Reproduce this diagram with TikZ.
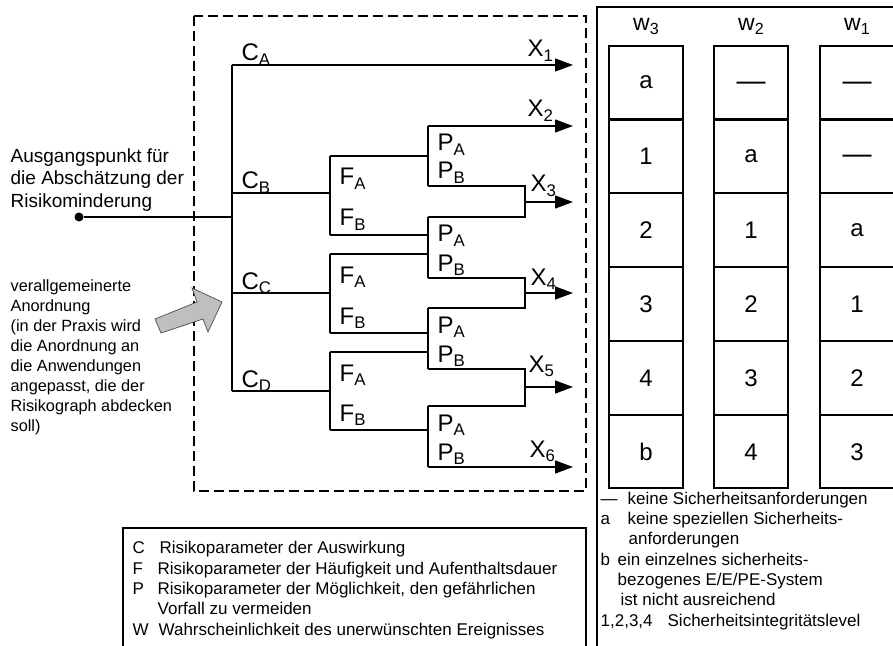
\documentclass[tikz,border=0pt]{standalone}
\usepackage{fontspec}
\setmainfont{Liberation Sans}
\usepackage{graphicx}
\usetikzlibrary{arrows.meta,positioning}

\newcommand{\lsub}[1]{\raisebox{-0.17em}{\scalebox{0.7}{#1}}}

\begin{document}
\begin{tikzpicture}[
  x=1bp, y=-1bp,
  line width=1.3bp,
  branchlabel/.style={
    inner sep=0pt, anchor=base west, font=\fontsize{24bp}{24bp}\selectfont
  },
  outcome/.style={
    -{Triangle[length=18bp, width=13bp]}
  },
  startdot/.style={
    circle, fill, inner sep=0pt, minimum size=9bp
  },
  cell/.style={
    draw, inner sep=0pt, minimum width=74bp, minimum height=72.6bp,
    font=\fontsize{24bp}{24bp}\selectfont
  },
  dashcell/.style={
    cell, font=\fontsize{29bp}{29bp}\selectfont,
    text height=15.5bp, text depth=0pt
  },
  colhead/.style={
    inner sep=0pt, anchor=base, font=\fontsize{23bp}{23bp}\selectfont
  },
  note/.style={
    inner sep=0pt, anchor=base west, font=\fontsize{17bp}{20bp}\selectfont
  },
  sidetext/.style={
    inner sep=0pt, anchor=west, align=left
  }
  ]
  \useasboundingbox (0,0) rectangle (893,646);

  % frames
  \draw[dash pattern=on 10bp off 5bp] (194,16) rectangle (586,491);
  \draw (123,528) rectangle (586,700);
  \draw (597,700) -- (597,7) -- (900,7);

  % left texts
  \node[sidetext, font=\fontsize{19bp}{22.5bp}\selectfont] (origin) at (10,180)
    {Ausgangspunkt für\\die Abschätzung der\\Risikominderung};
  \node[sidetext, font=\fontsize{16.3bp}{20bp}\selectfont] (remark) at (10,357)
    {verallgemeinerte\\Anordnung\\(in der Praxis wird\\die Anordnung an\\die Anwendungen\\angepasst, die der\\Risikograph abdecken\\soll)};

  % junctions of the graph
  \node[startdot] (start) at (79,217) {};
  \coordinate (root) at (232,217);
  \coordinate (cA) at (232,65);
  \coordinate (cB) at (232,193);
  \coordinate (cC) at (232,293);
  \coordinate (cD) at (232,391);
  \coordinate (fB1) at (330,156);
  \coordinate (fB2) at (330,235);
  \coordinate (fC1) at (330,254);
  \coordinate (fC2) at (330,333);
  \coordinate (fD1) at (330,352);
  \coordinate (fD2) at (330,430);
  \coordinate (p1a) at (428,126);
  \coordinate (p1b) at (428,186);
  \coordinate (p2a) at (428,217);
  \coordinate (p2b) at (428,278);
  \coordinate (p3a) at (428,308);
  \coordinate (p3b) at (428,369);
  \coordinate (p4a) at (428,406);
  \coordinate (p4b) at (428,467);
  \coordinate (m3) at (525,202);
  \coordinate (m4) at (525,293);
  \coordinate (m5) at (525,387);
  \coordinate (x1) at (573,65);
  \coordinate (x2) at (573,126);
  \coordinate (x3) at (573,202);
  \coordinate (x4) at (573,293);
  \coordinate (x5) at (573,387);
  \coordinate (x6) at (573,467);

  \draw (start) -- (root);
  \draw (cA) -- (cD);
  \draw[outcome] (cA) -- (x1);
  \draw (cB) -- (cB -| fB1);
  \draw (cC) -- (cC -| fC1);
  \draw (cD) -- (cD -| fD1);
  \draw (fB1) -- (fB2);
  \draw (fC1) -- (fC2);
  \draw (fD1) -- (fD2);
  \draw (fB1) -- (fB1 -| p1a);
  \draw (fB2) -- (fB2 -| p2a);
  \draw (fC1) -- (fC1 -| p2a);
  \draw (fC2) -- (fC2 -| p3a);
  \draw (fD1) -- (fD1 -| p3a);
  \draw (fD2) -- (fD2 -| p4a);
  \draw (p1a) -- (p1b);
  \draw (p2a) -- (p2b);
  \draw (p3a) -- (p3b);
  \draw (p4a) -- (p4b);
  \draw[outcome] (p1a) -- (x2);
  \draw (p1b) -| (p2a -| m3) -- (p2a);
  \draw (p2b) -| (p3a -| m4) -- (p3a);
  \draw (p3b) -| (p4a -| m5) -- (p4a);
  \draw[outcome] (m3) -- (x3);
  \draw[outcome] (m4) -- (x4);
  \draw[outcome] (m5) -- (x5);
  \draw[outcome] (p4b) -- (x6);

  % labels of the graph
  \node[branchlabel] (lCA) at (241,61) {C\lsub{A}};
  \node[branchlabel] (lCB) at (241,189) {C\lsub{B}};
  \node[branchlabel] (lCC) at (241,289) {C\lsub{C}};
  \node[branchlabel] (lCD) at (241,387) {C\lsub{D}};
  \node[branchlabel] (lFB1) at (339,185) {F\lsub{A}};
  \node[branchlabel] (lFB2) at (339,226) {F\lsub{B}};
  \node[branchlabel] (lFC1) at (339,283) {F\lsub{A}};
  \node[branchlabel] (lFC2) at (339,324) {F\lsub{B}};
  \node[branchlabel] (lFD1) at (339,381) {F\lsub{A}};
  \node[branchlabel] (lFD2) at (339,421) {F\lsub{B}};
  \node[branchlabel] (lP1a) at (437,151) {P\lsub{A}};
  \node[branchlabel] (lP1b) at (437,179) {P\lsub{B}};
  \node[branchlabel] (lP2a) at (437,242) {P\lsub{A}};
  \node[branchlabel] (lP2b) at (437,271) {P\lsub{B}};
  \node[branchlabel] (lP3a) at (437,333) {P\lsub{A}};
  \node[branchlabel] (lP3b) at (437,362) {P\lsub{B}};
  \node[branchlabel] (lP4a) at (437,431) {P\lsub{A}};
  \node[branchlabel] (lP4b) at (437,460) {P\lsub{B}};
  \node[branchlabel] (lX1) at (527,57) {X\lsub{1}};
  \node[branchlabel] (lX2) at (527,117) {X\lsub{2}};
  \node[branchlabel] (lX3) at (530,192) {X\lsub{3}};
  \node[branchlabel] (lX4) at (530,285) {X\lsub{4}};
  \node[branchlabel] (lX5) at (528,372) {X\lsub{5}};
  \node[branchlabel] (lX6) at (529,457) {X\lsub{6}};

  % grey pointer
  \draw[line width=0.7bp, draw=black!70, fill=black!25]
    (155,319) -- (197,302) -- (192,288) -- (222,302) -- (208,332)
    -- (203,319) -- (161,333) -- cycle;

  % risk table
  \node[colhead] (h3) at (646,31) {w\lsub{3}};
  \node[colhead] (h2) at (751,31) {w\lsub{2}};
  \node[colhead] (h1) at (857,31) {w\lsub{1}};
  \node[cell] (w3r1) at (646,82.3) {a};
  \node[cell, below=0pt of w3r1] (w3r2) {1};
  \node[cell, below=0pt of w3r2] (w3r3) {2};
  \node[cell, below=0pt of w3r3] (w3r4) {3};
  \node[cell, below=0pt of w3r4] (w3r5) {4};
  \node[cell, below=0pt of w3r5] (w3r6) {b};
  \node[dashcell] (w2r1) at (751,82.3) {—};
  \node[cell, below=0pt of w2r1] (w2r2) {a};
  \node[cell, below=0pt of w2r2] (w2r3) {1};
  \node[cell, below=0pt of w2r3] (w2r4) {2};
  \node[cell, below=0pt of w2r4] (w2r5) {3};
  \node[cell, below=0pt of w2r5] (w2r6) {4};
  \node[dashcell] (w1r1) at (857,82.3) {—};
  \node[dashcell, below=0pt of w1r1] (w1r2) {—};
  \node[cell, below=0pt of w1r2] (w1r3) {a};
  \node[cell, below=0pt of w1r3] (w1r4) {1};
  \node[cell, below=0pt of w1r4] (w1r5) {2};
  \node[cell, below=0pt of w1r5] (w1r6) {3};

  % key of the table
  \node[note] (k1) at (600,504) {—};
  \node[note] (k1t) at (627,504) {keine Sicherheitsanforderungen};
  \node[note] (k2) at (600,524) {a};
  \node[note] (k2t) at (627,524) {keine speziellen Sicherheits-};
  \node[note] (k2u) at (628,544) {anforderungen};
  \node[note] (k3) at (600,565) {b};
  \node[note] (k3t) at (617,565) {ein einzelnes sicherheits-};
  \node[note] (k3u) at (617,585) {bezogenes E/E/PE-System};
  \node[note] (k3v) at (620,605) {ist nicht ausreichend};
  \node[note] (k4) at (600,626) {1,2,3,4};
  \node[note] (k4t) at (667,626) {Sicherheitsintegritätslevel};

  % key of the parameters
  \node[note] (sC) at (132,553) {C};
  \node[note] (sCt) at (159,553) {Risikoparameter der Auswirkung};
  \node[note] (sF) at (132,574) {F};
  \node[note] (sFt) at (157,574) {Risikoparameter der Häufigkeit und Aufenthaltsdauer};
  \node[note] (sP) at (132,594) {P};
  \node[note] (sPt) at (157,594) {Risikoparameter der Möglichkeit, den gefährlichen};
  \node[note] (sPu) at (157,614) {Vorfall zu vermeiden};
  \node[note] (sW) at (132,635) {W};
  \node[note] (sWt) at (158,635) {Wahrscheinlichkeit des unerwünschten Ereignisses};
\end{tikzpicture}
\end{document}
